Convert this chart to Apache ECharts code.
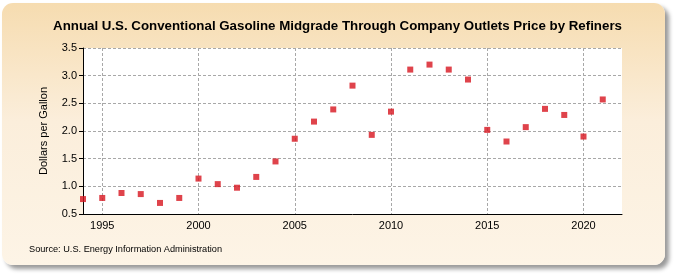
<!DOCTYPE html>
<html>
<head>
<meta charset="utf-8">
<script src="https://cdn.jsdelivr.net/npm/echarts@6/dist/echarts.min.js"></script>
<style>
  html, body { margin: 0; padding: 0; background: #ffffff; }
  #panel {
    position: absolute; left: 2px; top: 3px; width: 663px; height: 262px;
    border-radius: 11px;
    background: linear-gradient(to bottom, #f6dcb0 0%, #fbeedb 45%, #fdf4e6 100%);
    box-shadow: 4px 4px 4px #9a9a9a;
  }
  #chart { position: absolute; left: 0; top: 0; width: 675px; height: 275px; }
</style>
</head>
<body>
<div id="panel"></div>
<div id="chart"></div>
<script>
const titleText = 'Annual U.S. Conventional Gasoline Midgrade Through Company Outlets Price by Refiners';
const sourceText = 'Source: U.S. Energy Information Administration';
const yAxisName = 'Dollars per Gallon';
const axisYears = ['1994', '1995', '1996', '1997', '1998', '1999', '2000', '2001', '2002', '2003', '2004',
  '2005', '2006', '2007', '2008', '2009', '2010', '2011', '2012', '2013', '2014', '2015', '2016', '2017',
  '2018', '2019', '2020', '2021', '2022'];
const years = ['1994', '1995', '1996', '1997', '1998', '1999', '2000', '2001', '2002', '2003', '2004',
  '2005', '2006', '2007', '2008', '2009', '2010', '2011', '2012', '2013', '2014', '2015', '2016', '2017',
  '2018', '2019', '2020', '2021'];
const prices = [0.77, 0.79, 0.88, 0.86, 0.70, 0.79, 1.14, 1.04, 0.975, 1.17, 1.45, 1.86, 2.17, 2.39,
  2.82, 1.93, 2.35, 3.11, 3.20, 3.11, 2.93, 2.02, 1.81, 2.07, 2.40, 2.29, 1.90, 2.57];
const xTicks = ['1995', '2000', '2005', '2010', '2015', '2020'];

const chart = echarts.init(document.getElementById('chart'), null, { renderer: 'canvas' });
const points = years.map((y, i) => [y, prices[i]]);
const font = 'Liberation Sans, Arial, sans-serif';
chart.setOption({
  backgroundColor: 'transparent',
  animation: false,
  textStyle: { fontFamily: font },
  title: {
    text: titleText,
    left: 'center', top: 15,
    textStyle: { fontSize: 13.3, fontWeight: 'bold', color: '#000', fontFamily: font }
  },
  graphic: [{
    type: 'text', left: 29, top: 245,
    style: { text: sourceText, fontSize: 9.2, fill: '#000', fontFamily: font }
  }],
  grid: { left: 83, top: 48, width: 539, height: 166, backgroundColor: '#ffffff', show: true, borderWidth: 0 },
  xAxis: {
    type: 'category', data: axisYears, boundaryGap: false,
    axisLine: { show: true, lineStyle: { color: '#000', width: 1 } },
    axisTick: { show: false },
    axisLabel: {
      color: '#000', fontSize: 11, margin: 6,
      interval: (i, v) => xTicks.includes(v)
    },
    splitLine: {
      show: true,
      interval: (i, v) => xTicks.includes(v),
      lineStyle: { color: '#a8a8a8', type: [3, 2], width: 1 }
    }
  },
  yAxis: {
    type: 'value', min: 0.5, max: 3.5, interval: 0.5,
    name: yAxisName, nameLocation: 'middle', nameGap: 34,
    nameTextStyle: { fontSize: 11, color: '#000' },
    axisLine: { show: true, lineStyle: { color: '#000', width: 1 } },
    axisTick: { show: true, length: 4, inside: false, lineStyle: { color: '#000' } },
    axisLabel: { color: '#000', fontSize: 11, margin: 6, formatter: v => v.toFixed(1) },
    splitLine: { show: true, lineStyle: { color: '#a8a8a8', type: [3, 2], width: 1 } }
  },
  series: [{
    type: 'scatter', data: points, symbol: 'rect', symbolSize: 6,
    itemStyle: { color: '#d7141e' }, clip: false
  }]
});
</script>
</body>
</html>
